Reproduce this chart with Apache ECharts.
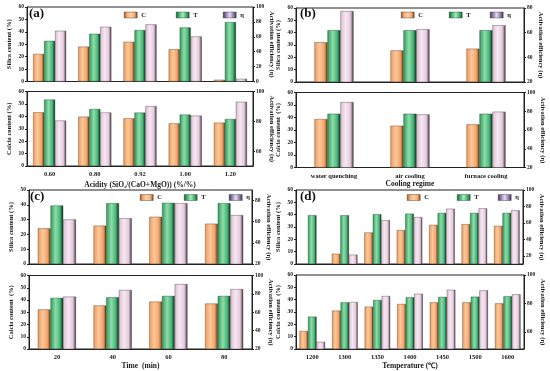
<!DOCTYPE html>
<html><head><meta charset="utf-8">
<script src="https://cdn.jsdelivr.net/npm/echarts@6/dist/echarts.min.js"></script>
<style>html,body{margin:0;padding:0;background:#fff}#c{width:550px;height:371px}</style>
</head><body><div id="c"></div>
<script>
// ---- data ----
const catsA = ['0.60','0.80','0.92','1.00','1.20'];
const aTopC = [22.2, 28.1, 31.9, 26.0, 1.4];
const aTopT = [32.7, 38.4, 41.4, 43.5, 47.8];
const aTopEta = [68, 73.4, 76.6, 60.4, 3.6];
const aBotC = [43.2, 39.7, 38.4, 34.3, 34.9];
const aBotT = [53.5, 45.9, 43.0, 41.4, 37.8];
const aBotEta = [80.5, 85.9, 90.2, 83.8, 93.1];

const catsB = ['water quenching','air cooling','furnace cooling'];
const bTopC = [32.2, 25.6, 27.0];
const bTopT = [42, 42, 42];
const bTopEta = [77.5, 62.8, 66];
const bBotC = [38.7, 33.4, 34.5];
const bBotT = [43, 43, 43];
const bBotEta = [89.7, 76.6, 79.5];

const catsC = ['20','40','60','80'];
const cTopC = [24.1, 25.9, 31.9, 27.2];
const cTopT = [39.5, 41.1, 41.3, 41.1];
const cTopEta = [62.1, 63.3, 77.5, 66.2];
const cBotC = [32.3, 35.5, 38.7, 37.1];
const cBotT = [41.7, 42.2, 43.3, 43.3];
const cBotEta = [77, 84.2, 90.6, 85.2];

const catsD = ['1200','1300','1350','1400','1450','1500','1600'];
const dTopC = [null, 8.3, 25.5, 27.5, 31.7, 32.3, 30.9];
const dTopT = [39.5, 39.5, 40.3, 40.8, 41.4, 41.4, 41.4];
const dTopEta = [null, 21.3, 63.3, 67, 77.2, 77.6, 75.2];
const dBotC = [14.6, 31.1, 34.3, 36.5, 37.8, 37.8, 37.0];
const dBotT = [26.2, 37.8, 39.7, 41.9, 42.2, 42.4, 42.7];
const dBotEta = [53, 81, 85.2, 86.8, 89.6, 89.2, 86.4];

// right-axis tick labels
const ticksR0to100 = [0,20,40,60,80,100];
const ticksR60to100 = [60,80,100];
const ticksR20to80 = [20,40,60,80];
const ticksR20to100 = [20,40,60,80,100];

// ---- styles ----
const FONT = 'Liberation Serif';
const TXT = '#1a1a1a';
function grad(stops){return new echarts.graphic.LinearGradient(0,0,1,0,stops.map((c,i)=>({offset:c[0],color:c[1]})));}
const colC = grad([[0,'#ec9a5c'],[0.4,'#fcc89c'],[0.75,'#f2a66c'],[0.88,'#b8703c'],[1,'#2a1a10']]);
const colT = grad([[0,'#2f9a5a'],[0.4,'#90dcab'],[0.75,'#46b676'],[0.88,'#236b40'],[1,'#0f2418']]);
const colE = grad([[0,'#dcbdd4'],[0.4,'#f6e8f1'],[0.75,'#e6cade'],[0.88,'#9a8494'],[1,'#2a2228']]);
const legC = grad([[0,'#8a4e25'],[0.2,'#f2a66c'],[0.5,'#fdd2aa'],[0.8,'#f2a66c'],[1,'#6a3a18']]);
const legT = grad([[0,'#155a30'],[0.2,'#3aaa68'],[0.5,'#a8e8c0'],[0.8,'#3aaa68'],[1,'#155a30']]);
const legE = grad([[0,'#3a2e4a'],[0.2,'#8a76a6'],[0.5,'#e6dcef'],[0.8,'#8a76a6'],[1,'#3a2e4a']]);

const grids=[], xAxes=[], yAxes=[], series=[], legends=[], graphics=[];

function addPlot(rect, cats, cD, tD, eD, left, right, xOpt, barW){
  const g = grids.length;
  grids.push(Object.assign({show:true, borderColor:'#222', borderWidth:1, containLabel:false}, rect));
  xAxes.push({gridIndex:g, type:'category', data:cats,
    axisLine:{lineStyle:{color:'#222',width:1}}, axisTick:{show:false},
    axisLabel:{show:!!xOpt, fontFamily:FONT, fontWeight:'bold', fontSize:6.5, color:TXT, margin:5, interval:0},
    name: xOpt ? xOpt.name : '', nameLocation:'middle', nameGap: xOpt ? xOpt.gap : 0,
    nameTextStyle:{fontFamily:FONT, fontWeight:'bold', fontSize:7.5, color:TXT}});
  const yl = yAxes.length;
  yAxes.push({gridIndex:g, type:'value', position:'left', min:left.min, max:left.max, interval:10,
    axisLine:{show:true, lineStyle:{color:'#222'}}, axisTick:{show:true, length:2, lineStyle:{color:'#222'}},
    axisLabel:{fontFamily:FONT, fontWeight:'bold', fontSize:5.5, color:TXT, margin:3},
    splitLine:{show:false},
    name:left.name, nameLocation:'middle', nameRotate:90, nameGap:14,
    nameTextStyle:{fontFamily:FONT, fontWeight:'bold', fontSize:6.5, color:TXT}});
  yAxes.push({gridIndex:g, type:'value', position:'right', min:right.min, max:right.max,
    axisLine:{show:true, lineStyle:{color:'#222'}},
    axisTick:{show:true, length:2, customValues:right.ticks, lineStyle:{color:'#222'}},
    axisLabel:{fontFamily:FONT, fontWeight:'bold', fontSize:5.5, color:TXT, margin:3, customValues:right.ticks},
    splitLine:{show:false},
    name:'Activation efficiency (η)', nameLocation:'middle', nameRotate:-90, nameGap:13,
    nameTextStyle:{fontFamily:FONT, fontWeight:'bold', fontSize:6.5, color:TXT}});
  const base = {type:'bar', xAxisIndex:g, barWidth:barW, barGap:'0%', animation:false,
    itemStyle:{borderColor:'#444', borderWidth:0.4}};
  series.push(Object.assign({}, base, {name:'C', yAxisIndex:yl, data:cD, itemStyle:{color:colC, borderColor:'#5a3a20', borderWidth:0.4}}));
  series.push(Object.assign({}, base, {name:'T', yAxisIndex:yl, data:tD, itemStyle:{color:colT, borderColor:'#1d4a2c', borderWidth:0.4}}));
  series.push(Object.assign({}, base, {name:'η', yAxisIndex:yl+1, data:eD, itemStyle:{color:colE, borderColor:'#4a3a46', borderWidth:0.4}}));
}

function addLegend(label, lx, ly, xs){
  const names=['C','T','η'], cols=[legC,legT,legE];
  names.forEach((n,i)=>{
    legends.push({left:xs[i], top:ly-3, padding:0, itemWidth:13, itemHeight:6, itemGap:0, icon:'rect',
      selectedMode:false, textStyle:{fontFamily:FONT, fontWeight:'bold', fontSize:6.5, color:TXT, padding:[0,0,0,-1]},
      data:[{name:n, itemStyle:{color:cols[i], borderColor:'#333', borderWidth:0.4}}]});
  });
  graphics.push({type:'text', left:lx, top:ly-7, style:{text:label, font:'bold 13px "'+FONT+'"', fill:'#111'}});
}

// (a)
addPlot({left:27, top:7, width:226, height:74.5}, catsA, aTopC, aTopT, aTopEta,
  {min:0,max:60,name:'Silica content (%)'}, {min:0,max:100,ticks:ticksR0to100}, null, 11);
addPlot({left:27, top:91.5, width:226, height:74.5}, catsA, aBotC, aBotT, aBotEta,
  {min:0,max:60,name:'Calcia content (%)'}, {min:50,max:100,ticks:ticksR60to100},
  {name:'Acidity (SiO₂/(CaO+MgO)) (%/%)', gap:15}, 11);
addLegend('(a)', 29, 14.5, [124,176,223]);
// (b)
addPlot({left:296, top:8, width:228, height:74}, catsB, bTopC, bTopT, bTopEta,
  {min:0,max:60,name:'Silica content (%)'}, {min:20,max:80,ticks:ticksR20to80}, null, 13);
addPlot({left:296, top:92.5, width:228, height:75}, catsB, bBotC, bBotT, bBotEta,
  {min:0,max:60,name:'Calcia content  (%)'}, {min:20,max:100,ticks:ticksR20to100},
  {name:'Cooling regime', gap:13}, 13);
addLegend('(b)', 300, 14.5, [401,449,490]);
// (c)
addPlot({left:29, top:190, width:223, height:74}, catsC, cTopC, cTopT, cTopEta,
  {min:0,max:50,name:'Silica content (%)'}, {min:20,max:90,ticks:ticksR20to80}, null, 12.7);
addPlot({left:29, top:275.5, width:223, height:74.5}, catsC, cBotC, cBotT, cBotEta,
  {min:0,max:60,name:'Calcia content  (%)'}, {min:20,max:100,ticks:ticksR20to100},
  {name:'Time  (min)', gap:13}, 12.7);
addLegend('(c)', 30, 197, [140,184,229]);
// (d)
addPlot({left:296, top:190, width:227, height:74}, catsD, dTopC, dTopT, dTopEta,
  {min:0,max:60,name:'Silica content (%)'}, {min:10,max:100,ticks:ticksR20to100}, null, 8.5);
addPlot({left:296, top:275, width:228, height:74.5}, catsD, dBotC, dBotT, dBotEta,
  {min:0,max:60,name:'Calcia content  (%)'}, {min:48,max:100,ticks:ticksR60to100},
  {name:'Temperature (℃)', gap:13}, 8.5);
addLegend('(d)', 300, 197, [407,457,498]);

const chart = echarts.init(document.getElementById('c'), null, {renderer:'canvas'});
chart.setOption({animation:false, backgroundColor:'#fff', grid:grids, xAxis:xAxes, yAxis:yAxes,
  series:series, legend:legends, graphic:graphics});
</script></body></html>
